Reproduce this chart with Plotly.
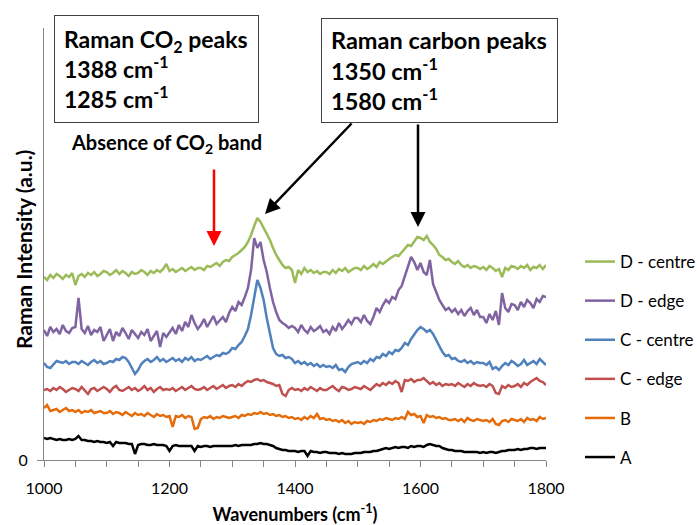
import plotly.graph_objects as go

wavenumbers = list(range(1000, 1805, 5))

series_names = ["A", "B", "C - edge", "C - centre", "D - edge", "D - centre"]
series_colors = ["#000000", "#E46C0A", "#C0504D", "#4F81BD", "#8064A2", "#9BBB59"]

A = [22,21,22,21,20,21,20,20,21,20,
     21,24,20,20,19,19,18,19,18,18,
     17,18,14,18,17,17,17,16,16,6,
     15,16,16,15,15,16,15,15,15,14,
     9,14,15,14,14,14,14,14,9,14,
     13,14,14,13,14,14,14,14,14,14,
     14,15,14,15,15,15,15,16,16,17,
     16,16,15,14,12,11,10,10,9,9,
     9,8,9,9,4,9,8,8,7,8,
     8,7,7,7,6,7,6,6,6,7,
     7,7,8,8,8,9,9,10,11,12,
     11,12,13,12,13,13,12,14,13,14,
     14,13,15,16,15,14,14,12,11,10,
     10,9,9,9,8,8,8,8,8,7,
     8,7,8,8,7,8,9,9,10,10,
     10,11,10,11,11,12,12,11,12,12,
     12]

B = [52,55,49,50,51,48,50,52,49,50,
     48,50,47,49,48,50,47,48,49,47,
     47,49,46,48,47,45,48,46,44,47,
     45,46,44,47,45,43,46,44,45,43,
     44,33,44,43,45,42,44,43,31,32,
     41,43,42,44,41,43,42,44,43,42,
     43,44,42,45,44,46,45,47,46,48,
     46,47,45,46,44,45,43,44,42,43,
     41,42,40,43,41,44,42,46,41,42,
     40,41,39,40,38,40,37,39,36,38,
     37,38,36,39,38,40,39,41,40,42,
     41,40,42,41,43,41,48,45,46,43,
     44,37,45,43,44,42,43,41,42,40,
     40,41,39,41,38,42,40,39,41,40,
     39,40,38,41,36,35,39,40,38,41,
     40,39,41,38,42,40,41,39,43,41,
     42]

C_edge = [70,71,69,72,70,73,71,68,70,72,
          71,69,73,70,66,71,72,69,71,73,
          71,68,72,74,70,69,71,73,70,72,
          69,71,74,70,72,68,71,73,70,71,
          70,72,69,71,73,70,72,74,71,70,
          71,73,70,72,74,71,73,75,72,74,
          75,73,76,74,77,79,78,80,81,79,
          80,78,77,76,74,75,66,64,70,72,
          70,71,69,72,70,73,71,69,72,70,
          70,72,74,71,69,73,72,70,71,73,
          72,71,74,72,70,73,76,74,77,75,
          78,76,79,77,68,80,79,81,78,80,
          80,82,79,76,78,75,77,74,76,75,
          76,74,77,75,73,76,74,77,75,74,
          75,73,76,74,67,66,74,72,75,73,
          74,76,73,77,75,78,80,82,79,78,
          75]

C_centre = [97,93,92,96,99,98,97,99,96,98,
            98,96,99,97,95,98,100,97,99,96,
            97,99,98,101,100,103,102,98,92,86,
            90,96,99,101,98,100,103,99,101,98,
            100,102,99,101,98,102,100,103,99,101,
            100,102,104,101,103,105,104,107,106,108,
            112,111,115,118,124,131,145,162,180,172,
            160,142,125,112,106,104,105,102,103,101,
            97,99,96,98,95,97,94,96,93,95,
            93,94,92,95,90,91,88,93,96,97,
            98,96,99,97,101,99,103,102,106,104,
            108,106,110,109,112,117,115,121,126,130,
            133,131,128,130,126,120,114,108,104,105,
            101,102,99,98,100,97,99,96,98,97,
            97,95,98,91,93,90,94,97,95,99,
            97,94,96,100,95,97,99,96,101,98,
            95]

D_edge = [130,124,133,128,131,126,135,129,127,132,
          133,162,131,127,134,125,130,128,133,119,
          125,131,119,128,124,132,127,121,130,126,
          122,128,125,131,119,124,129,113,127,123,
          128,132,126,135,129,138,133,145,137,131,
          135,141,133,139,144,136,140,143,138,147,
          153,149,158,155,163,172,190,222,212,218,
          200,188,172,158,148,140,137,135,132,134,
          132,128,135,130,127,133,129,131,134,128,
          130,126,133,129,137,131,135,140,136,142,
          142,138,145,139,136,143,152,148,155,160,
          157,163,161,170,174,184,195,203,198,190,
          197,188,185,200,176,167,160,155,150,152,
          148,151,146,150,144,149,152,145,150,143,
          143,137,146,140,149,135,167,152,148,156,
          155,150,158,153,160,157,152,161,158,164,
          163]

D_centre = [183,180,185,182,186,184,181,185,183,187,
            175,184,186,183,187,185,188,184,186,189,
            188,185,187,190,186,189,187,184,188,186,
            187,190,188,185,189,187,190,188,191,196,
            189,191,188,190,192,189,191,193,190,192,
            192,190,194,193,195,197,194,198,200,199,
            203,205,207,210,213,218,225,234,242,238,
            232,227,220,212,205,200,195,192,193,190,
            177,190,186,192,188,190,187,189,186,188,
            188,186,190,187,191,189,192,188,190,192,
            192,190,194,191,193,196,193,198,196,199,
            201,203,205,204,208,211,215,214,219,223,
            222,220,224,218,215,211,205,203,200,201,
            198,196,199,195,193,195,192,194,193,191,
            193,190,194,192,189,191,183,192,190,194,
            193,191,194,192,195,190,193,192,195,191,
            195]

series_values = [A, B, C_edge, C_centre, D_edge, D_centre]

FONT = "Lato"
fig = go.Figure()
n = len(series_names)
for i, (name, col, vals) in enumerate(zip(series_names, series_colors, series_values)):
    fig.add_trace(go.Scatter(
        x=wavenumbers, y=vals, mode="lines", name=name,
        line=dict(color=col, width=2.5), legendgroup=name,
        legendrank=n - i,
    ))

# plot area in pixels: x 44..546, y 28..460
L, R, T, Bm = 44, 546, 28, 460
W, H = R - L, Bm - T

def px(xp):
    return (xp - L) / W

def py(yp):
    return (Bm - yp) / H

fig.update_layout(
    width=697, height=525,
    margin=dict(l=L, r=697 - R, t=T, b=525 - Bm, autoexpand=False),
    paper_bgcolor="white", plot_bgcolor="white",
    font=dict(family=FONT, size=16, color="black"),
    showlegend=True,
    legend=dict(
        x=px(580), y=py(244), xanchor="left", yanchor="top",
        traceorder="grouped", tracegroupgap=14,
        font=dict(family=FONT, size=17, color="black"),
        itemwidth=30, bgcolor="rgba(0,0,0,0)",
    ),
    xaxis=dict(
        range=[1000, 1800], showgrid=False, zeroline=False,
        showline=True, linecolor="#868686", linewidth=1,
        ticks="outside", tickcolor="#868686", ticklen=6,
        tickvals=list(range(1000, 1801, 50)),
        ticktext=[str(v) if v % 200 == 0 else "" for v in range(1000, 1801, 50)],
        tickfont=dict(family=FONT, size=16), ticklabelstandoff=8,
        automargin=False,
        title=dict(text="<b>Wavenumbers (cm<sup>-1</sup>)</b>",
                   font=dict(family=FONT, size=18), standoff=12),
    ),
    yaxis=dict(
        range=[0, 432], showgrid=False, zeroline=False,
        showline=True, linecolor="#868686", linewidth=1,
        ticks="outside", tickcolor="#868686", ticklen=6,
        tickvals=[0], ticktext=["0"], tickfont=dict(family=FONT, size=16),
        ticklabelstandoff=6, automargin=False,
    ),
)

ann = []
# y-axis title
ann.append(dict(xref="paper", yref="paper", x=px(24), y=py(250),
                text="<b>Raman Intensity (a.u.)</b>", textangle=-90,
                showarrow=False, font=dict(family=FONT, size=21),
                xanchor="center", yanchor="middle"))
# Box 1
ann.append(dict(xref="paper", yref="paper", x=px(54), y=py(15),
                xanchor="left", yanchor="top", showarrow=False,
                text="<b>Raman CO<sub>2</sub> peaks<br>1388 cm<sup>-1</sup><br>1285 cm<sup>-1</sup></b>",
                align="left", valign="middle", width=185, height=88, borderpad=9,
                bordercolor="#404040", borderwidth=1, bgcolor="white",
                font=dict(family=FONT, size=23, color="black")))
# Box 2
ann.append(dict(xref="paper", yref="paper", x=px(321), y=py(18),
                xanchor="left", yanchor="top", showarrow=False,
                text="<b>Raman carbon peaks<br>1350 cm<sup>-1</sup><br>1580 cm<sup>-1</sup></b>",
                align="left", valign="middle", width=217, height=85, borderpad=9,
                bordercolor="#404040", borderwidth=1, bgcolor="white",
                font=dict(family=FONT, size=23.5, color="black")))
# Absence label
ann.append(dict(xref="paper", yref="paper", x=px(166), y=py(143),
                xanchor="center", yanchor="middle", showarrow=False,
                text="<b>Absence of CO<sub>2</sub> band</b>",
                font=dict(family=FONT, size=20, color="black")))
# Red arrow
ann.append(dict(xref="paper", yref="paper", x=px(214), y=py(246),
                ax=0, ay=-78, text="", showarrow=True, arrowhead=2,
                arrowsize=1.2, arrowwidth=2.5, arrowcolor="#FF0000"))
# Black arrows
ann.append(dict(xref="paper", yref="paper", x=px(265), y=py(214),
                ax=88, ay=-92, text="", showarrow=True, arrowhead=2,
                arrowsize=1.2, arrowwidth=2.5, arrowcolor="#000000"))
ann.append(dict(xref="paper", yref="paper", x=px(418), y=py(227),
                ax=0, ay=-104, text="", showarrow=True, arrowhead=2,
                arrowsize=1.2, arrowwidth=2.5, arrowcolor="#000000"))
fig.update_layout(annotations=ann)

fig.write_html("out.html")
